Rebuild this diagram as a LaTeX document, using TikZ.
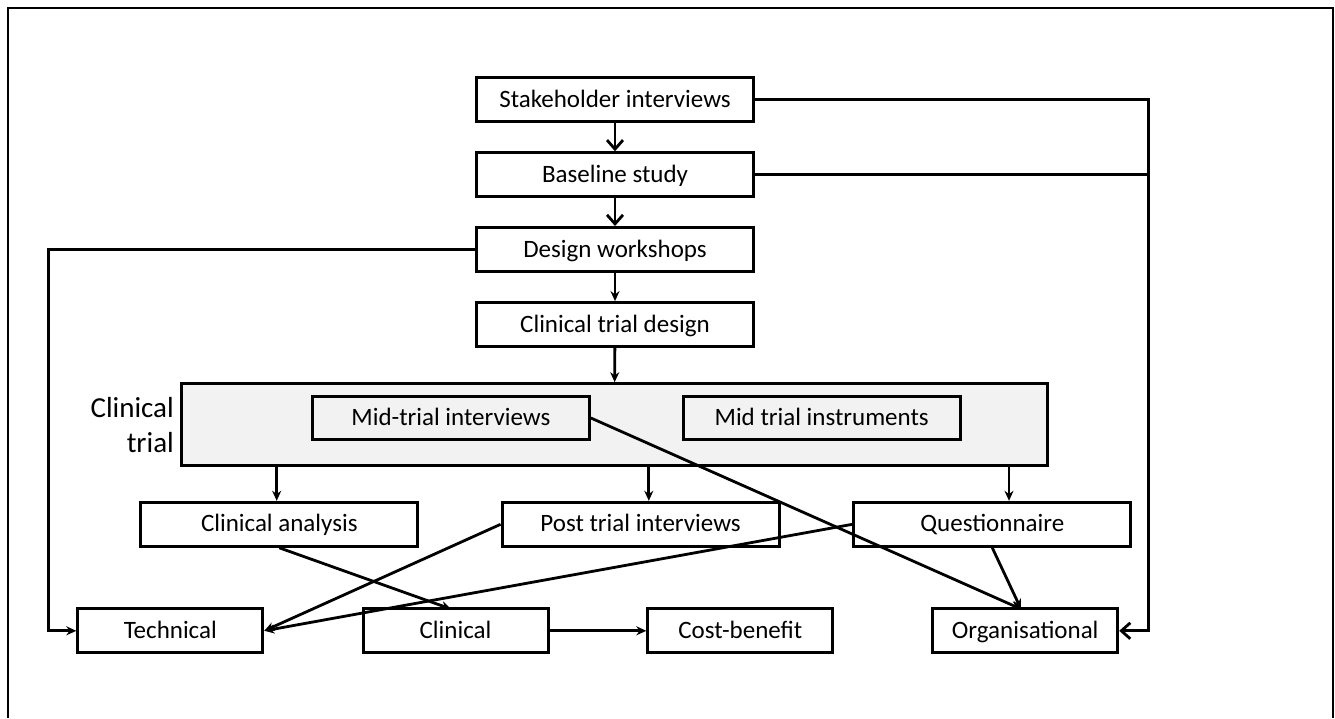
\documentclass[tikz,border=0pt]{standalone}
\usepackage{fontspec}
\setmainfont{Carlito}
\usetikzlibrary{arrows.meta}
\begin{document}
\begin{tikzpicture}[x=1pt,y=-1pt,
  box/.style={draw=black,line width=3pt,fill=white,minimum width=277pt,minimum height=44pt,inner sep=0pt,text height=18pt,text depth=3pt,font=\fontsize{25}{29}\selectfont},
  sbox/.style={box,minimum width=185pt},
  conn/.style={line width=2.8pt,-{Stealth[length=10pt,width=9pt]}},
  barb/.style={line width=2.8pt,-{Straight Barb[length=9pt,width=16pt,line width=2.8pt]}}]
\useasboundingbox (0,0) rectangle (1335,718);
\draw[line width=2.2pt] (8,718) -- (8,8) -- (1333,8) -- (1333,718);
% container
\node[draw=black,line width=3pt,fill=black!5,minimum width=866pt,minimum height=82pt,inner sep=0pt] (ct) at (614.4,424.7) {};
\node[anchor=east,align=right,font=\fontsize{29}{35}\selectfont,inner sep=0pt] (ctl) at (174,425) {Clinical\\trial};
% boxes
\node[box] (stake) at (615,99.5) {Stakeholder interviews};
\node[box] (base) at (615,174.7) {Baseline study};
\node[box] (design) at (615,249.5) {Design workshops};
\node[box] (ctd) at (615,324.6) {Clinical trial design};
\node[box,fill=black!5,minimum height=43pt] (mid) at (450.9,418) {Mid-trial interviews};
\node[box,fill=black!5,minimum height=43pt] (instr) at (821.7,418) {Mid trial instruments};
\node[box] (ca) at (279.3,524.3) {Clinical analysis};
\node[box] (pti) at (640.6,524.3) {Post trial interviews};
\node[box] (q) at (992.3,524.3) {Questionnaire};
\node[sbox] (tech) at (170.3,630.8) {Technical};
\node[sbox] (clin) at (455.5,630.8) {Clinical};
\node[sbox] (cb) at (740.3,630.8) {Cost-benefit};
\node[sbox] (org) at (1025.2,630.8) {Organisational};
% coordinates
\coordinate (lt) at (48.5,249.5);
\coordinate (lb) at (48.5,630.8);
\coordinate (rt) at (1148.6,99.5);
\coordinate (rm) at (1148.6,174.7);
\coordinate (rb) at (1148.6,630.8);
\coordinate (orgtop) at (1021,609);
\coordinate (clintop) at (451,609);
% connectors
\draw[barb] (stake) -- (base);
\draw[barb] (base) -- (design);
\draw[conn] (design) -- (ctd);
\draw[conn] (ctd) -- (ct);
\draw[conn] (ct.south -| 276.7,0) -- (ca.north -| 276.7,0);
\draw[conn] (ct.south -| 648.8,0) -- (pti.north -| 648.8,0);
\draw[conn] (ct.south -| 1009,0) -- (q.north -| 1009,0);
\draw[conn] (design.west) -- (lt) -- (lb) -- (tech.west);
\draw[line width=2.8pt] (stake.east) -- (rt) -- (rm);
\draw[line width=2.8pt] (base.east) -- (rm);
\draw[barb] (rm) -- (rb) -- (org.east);
\draw[conn] (mid.east) -- (orgtop);
\draw[conn] (q.south) -- (orgtop);
\draw[conn] (q.west) -- (tech.east);
\draw[conn] (pti.west) -- (tech.east);
\draw[conn] (ca.south) -- (clintop);
\draw[conn] (clin) -- (cb);
\end{tikzpicture}
\end{document}
